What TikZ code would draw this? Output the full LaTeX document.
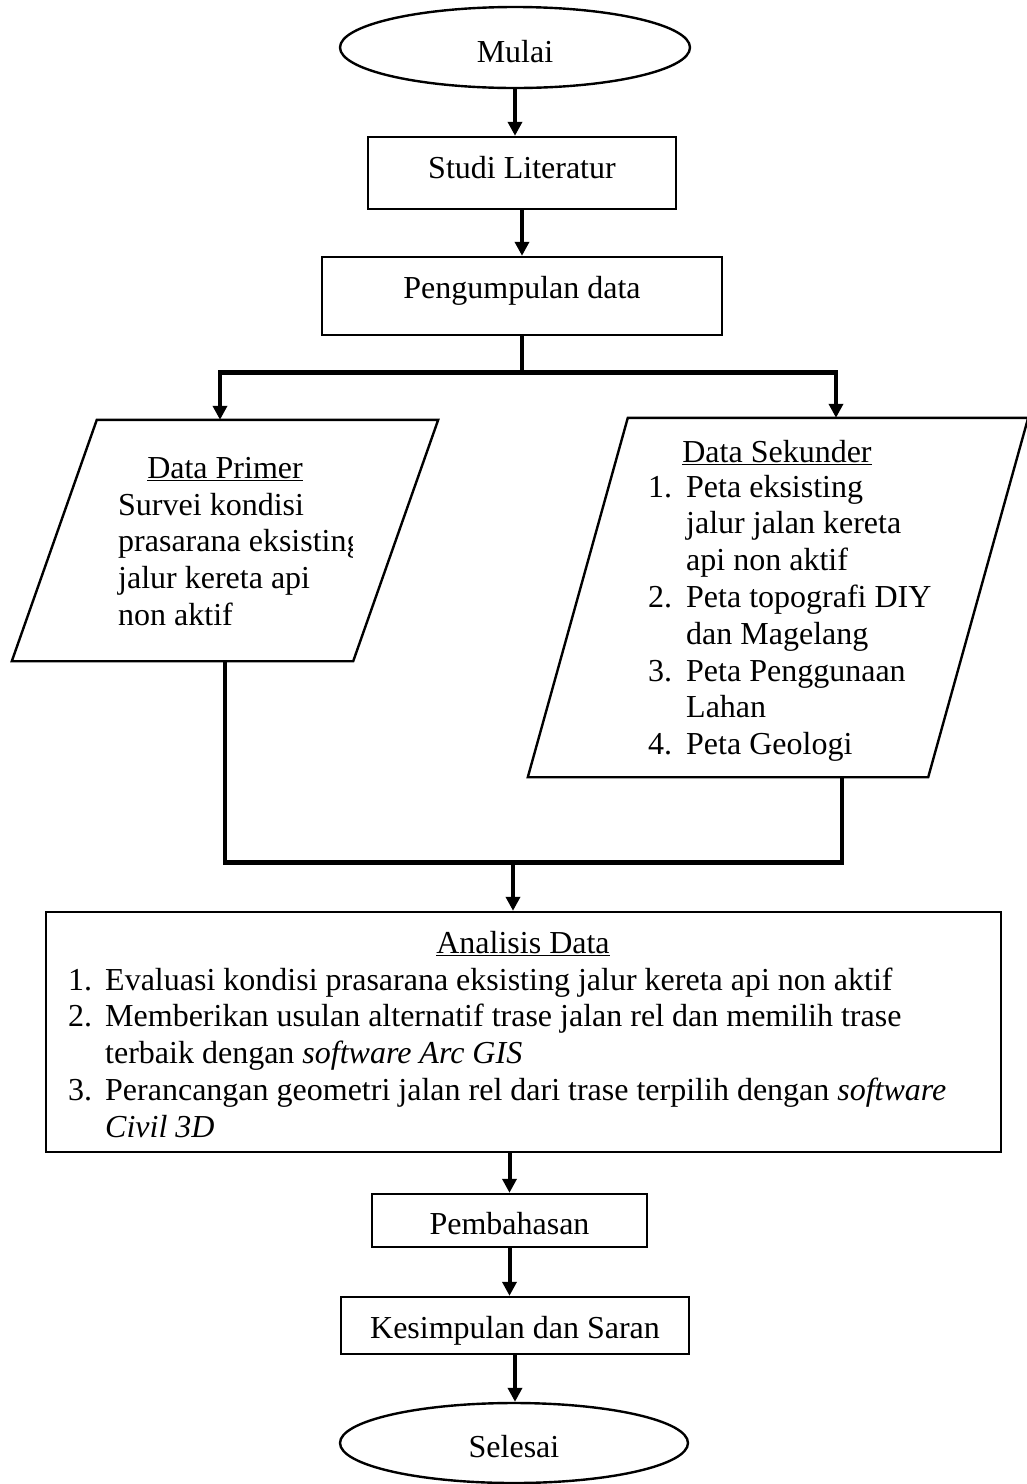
\documentclass[tikz,border=0pt]{standalone}
\usepackage{fontspec}
\setmainfont{Liberation Serif}
\usetikzlibrary{positioning,arrows.meta,shapes.geometric}

\tikzset{
  flowtext/.style={font=\fontsize{32}{36.8}\selectfont,inner sep=0pt},
  flowbox/.style={flowtext,draw,line width=2.4pt,text depth=0pt},
  terminal/.style={flowbox,ellipse},
  databox/.style={inner sep=0pt},
  shapeline/.style={line width=2.4pt},
  flowline/.style={line width=4pt},
  branchline/.style={line width=5pt},
  flowarrow/.style={line width=4pt,-{Triangle[length=14pt,width=14pt]}}
}

\begin{document}
\begin{tikzpicture}[x=1pt,y=1pt]
  \useasboundingbox (0,0) rectangle (1026,-1484);
  % start and first steps
  \node[terminal,minimum width=350pt,minimum height=81pt,text height=29pt] (mulai) at (515,-47.5) {Mulai};
  \node[flowbox,minimum width=308pt,minimum height=72pt,text height=10pt] (studi) at (522,-173) {Studi Literatur};
  \node[flowbox,minimum width=400pt,minimum height=78pt,text height=4pt] (kumpul) at (522,-296) {Pengumpulan data};
  \draw[flowarrow] (mulai.south) -- (mulai.south |- studi.north);
  \draw[flowarrow] (studi.south) -- (kumpul.north);

  % data primer
  \node[databox,minimum width=426pt,minimum height=241pt] (primer) at (225,-540.5) {};
  \draw[shapeline] ([xshift=85pt]primer.north west) -- (primer.north east) -- ([xshift=-85pt]primer.south east) -- (primer.south west) -- cycle;
  \node[flowtext,anchor=base] (primerhead) at (225,-478) {\underline{Data Primer}};
  \begin{scope}
    \clip (0,-420) rectangle (352,-661);
    \foreach \t [count=\i from 0] in {Survei kondisi,prasarana eksisting,jalur kereta api,non aktif}
      \node[flowtext,anchor=base west] (primer-\i) at (118,{-515-36.8*\i}) {\t};
  \end{scope}

  % data sekunder
  \node[databox,minimum width=500pt,minimum height=359pt] (sekunder) at (778,-597.5) {};
  \draw[shapeline] ([xshift=100pt]sekunder.north west) -- (sekunder.north east) -- ([xshift=-100pt]sekunder.south east) -- (sekunder.south west) -- cycle;
  \node[flowtext,anchor=base] (sekunderhead) at (777,-462) {\underline{Data Sekunder}};
  \foreach \i/\n in {0/1.,3/2.,5/3.,7/4.}
    \node[flowtext,anchor=base west] (sekundernum-\i) at (648,{-497-36.8*\i}) {\n};
  \foreach \t [count=\i from 0] in {Peta eksisting,jalur jalan kereta,api non aktif,Peta topografi DIY,dan Magelang,Peta Penggunaan,Lahan,Peta Geologi}
    \node[flowtext,anchor=base west] (sekunder-\i) at (686,{-497-36.8*\i}) {\t};

  % split and join
  \coordinate (split) at (522,-372);
  \coordinate (splitL) at (220,-372);
  \coordinate (splitR) at (836,-372);
  \coordinate (joinL) at (225,-862);
  \coordinate (joinR) at (842,-862);
  \coordinate (join) at (513,-862);
  \draw[flowline] (kumpul.south) -- (split);
  \draw[branchline] ([xshift=-2pt]splitL) -- ([xshift=2pt]splitR);
  \draw[flowarrow] (splitL) -- (splitL |- primer.north);
  \draw[flowarrow] (splitR) -- (splitR |- sekunder.north);
  \draw[flowline] (primer.south) -- (joinL);
  \draw[flowline] (joinR |- sekunder.south) -- (joinR);
  \draw[branchline] ([xshift=-2pt]joinL) -- ([xshift=2pt]joinR);

  % analisis
  \node[flowbox,minimum width=955pt,minimum height=240pt] (analisis) at (523.5,-1032) {};
  \draw[flowarrow] (join) -- (join |- analisis.north);
  \node[flowtext,anchor=base] (analisishead) at (523,-953) {\underline{Analisis Data}};
  \foreach \i/\n in {0/1.,1/2.,3/3.}
    \node[flowtext,anchor=base west] (analisisnum-\i) at (68,{-990-36.8*\i}) {\n};
  \foreach \t [count=\i from 0] in {Evaluasi kondisi prasarana eksisting jalur kereta api non aktif,
      Memberikan usulan alternatif trase jalan rel dan memilih trase,
      terbaik dengan \textit{software Arc GIS},
      Perancangan geometri jalan rel dari trase terpilih dengan \textit{software},
      \textit{Civil 3D}}
    \node[flowtext,anchor=base west] (analisis-\i) at (105,{-990-36.8*\i}) {\t};

  % closing steps
  \node[flowbox,minimum width=275pt,minimum height=53pt,text height=27pt] (bahas) at (509.5,-1220.5) {Pembahasan};
  \node[flowbox,minimum width=348pt,minimum height=57pt,text height=25pt] (simpul) at (515,-1325.5) {Kesimpulan dan Saran};
  \node[terminal,minimum width=348pt,minimum height=80pt,text height=28pt] (selesai) at (514,-1443) {Selesai};
  \draw[flowarrow] (analisis.south -| bahas.north) -- (bahas.north);
  \draw[flowarrow] (bahas.south) -- (bahas.south |- simpul.north);
  \draw[flowarrow] (simpul.south) -- (simpul.south |- selesai.north);
\end{tikzpicture}
\end{document}
